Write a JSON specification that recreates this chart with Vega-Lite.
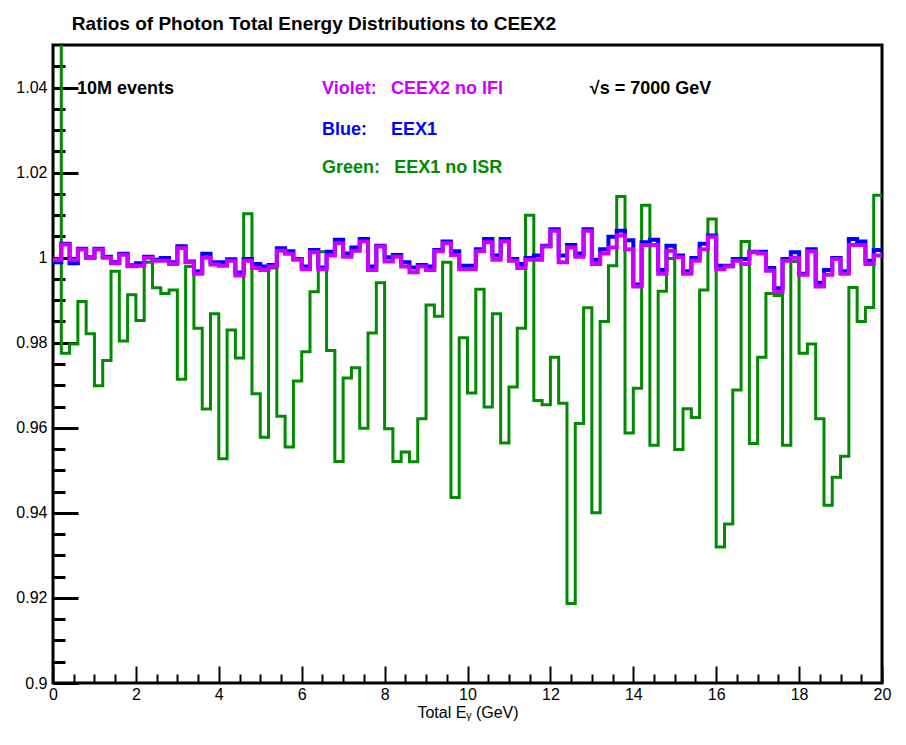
{
  "$schema": "https://vega.github.io/schema/vega-lite/v6.json",
  "width": 829,
  "height": 638,
  "autosize": {"type": "none"},
  "padding": {"left": 53, "top": 45, "right": 24, "bottom": 62},
  "background": "white",
  "title": {"text": "Ratios of Photon Total Energy Distributions to CEEX2", "anchor": "start", "dx": 56, "offset": -4, "baseline": "alphabetic", "font": "Liberation Sans", "fontWeight": "bold", "fontSize": 19, "color": "black"},
  "datasets": {
    "h": [
      {"e": 0.0, "green": 1.08, "blue": 0.9989, "violet": 0.9995},
      {"e": 0.2, "green": 0.9775, "blue": 1.0033, "violet": 1.0031},
      {"e": 0.4, "green": 0.9797, "blue": 0.9987, "violet": 0.9995},
      {"e": 0.6, "green": 0.9897, "blue": 1.0021, "violet": 1.0019},
      {"e": 0.8, "green": 0.9821, "blue": 1.0001, "violet": 0.9999},
      {"e": 1.0, "green": 0.9699, "blue": 1.0021, "violet": 1.0019},
      {"e": 1.2, "green": 0.9758, "blue": 1.0002, "violet": 1.0},
      {"e": 1.4, "green": 0.9968, "blue": 0.9989, "violet": 0.9987},
      {"e": 1.6, "green": 0.9804, "blue": 1.0009, "violet": 1.0007},
      {"e": 1.8, "green": 0.9913, "blue": 0.9982, "violet": 0.998},
      {"e": 2.0, "green": 0.9852, "blue": 0.9987, "violet": 0.9981},
      {"e": 2.2, "green": 0.9989, "blue": 1.0002, "violet": 1.0},
      {"e": 2.4, "green": 0.9929, "blue": 0.9995, "violet": 0.9993},
      {"e": 2.6, "green": 0.9916, "blue": 0.9999, "violet": 0.9993},
      {"e": 2.8, "green": 0.9924, "blue": 0.9989, "violet": 0.9985},
      {"e": 3.0, "green": 0.9714, "blue": 1.0027, "violet": 1.0023},
      {"e": 3.2, "green": 0.9979, "blue": 0.9991, "violet": 0.9989},
      {"e": 3.4, "green": 0.9834, "blue": 0.9968, "violet": 0.9962},
      {"e": 3.6, "green": 0.9644, "blue": 1.0009, "violet": 1.0},
      {"e": 3.8, "green": 0.9868, "blue": 0.9989, "violet": 0.9984},
      {"e": 4.0, "green": 0.9527, "blue": 0.9989, "violet": 0.9981},
      {"e": 4.2, "green": 0.983, "blue": 0.9996, "violet": 0.9993},
      {"e": 4.4, "green": 0.9764, "blue": 0.9965, "violet": 0.9958},
      {"e": 4.6, "green": 1.0103, "blue": 0.9997, "violet": 0.9993},
      {"e": 4.8, "green": 0.968, "blue": 0.9985, "violet": 0.9976},
      {"e": 5.0, "green": 0.9578, "blue": 0.9979, "violet": 0.9971},
      {"e": 5.2, "green": 0.9976, "blue": 0.9983, "violet": 0.9979},
      {"e": 5.4, "green": 0.9627, "blue": 1.0022, "violet": 1.0016},
      {"e": 5.6, "green": 0.9555, "blue": 1.0015, "violet": 1.0009},
      {"e": 5.8, "green": 0.971, "blue": 0.9997, "violet": 0.9995},
      {"e": 6.0, "green": 0.9779, "blue": 0.9979, "violet": 0.9973},
      {"e": 6.2, "green": 0.992, "blue": 1.0018, "violet": 1.0013},
      {"e": 6.4, "green": 1.0014, "blue": 0.9977, "violet": 0.9973},
      {"e": 6.6, "green": 0.9782, "blue": 1.0014, "violet": 1.0005},
      {"e": 6.8, "green": 0.9521, "blue": 1.0042, "violet": 1.0034},
      {"e": 7.0, "green": 0.9717, "blue": 1.001, "violet": 1.0002},
      {"e": 7.2, "green": 0.9741, "blue": 1.0024, "violet": 1.0016},
      {"e": 7.4, "green": 0.9599, "blue": 1.0044, "violet": 1.0038},
      {"e": 7.6, "green": 0.9823, "blue": 0.9979, "violet": 0.9971},
      {"e": 7.8, "green": 0.9941, "blue": 1.0028, "violet": 1.0026},
      {"e": 8.0, "green": 0.9598, "blue": 1.0001, "violet": 0.9991},
      {"e": 8.2, "green": 0.9521, "blue": 1.0006, "violet": 1.0002},
      {"e": 8.4, "green": 0.9543, "blue": 0.9989, "violet": 0.9979},
      {"e": 8.6, "green": 0.952, "blue": 0.9977, "violet": 0.9966},
      {"e": 8.8, "green": 0.9621, "blue": 0.9983, "violet": 0.9979},
      {"e": 9.0, "green": 0.9889, "blue": 0.9979, "violet": 0.9971},
      {"e": 9.2, "green": 0.9862, "blue": 1.0018, "violet": 1.0015},
      {"e": 9.4, "green": 0.9989, "blue": 1.0038, "violet": 1.0034},
      {"e": 9.6, "green": 0.9436, "blue": 1.0015, "violet": 1.0006},
      {"e": 9.8, "green": 0.9812, "blue": 0.9981, "violet": 0.9973},
      {"e": 10.0, "green": 0.9682, "blue": 0.9981, "violet": 0.9973},
      {"e": 10.2, "green": 0.9926, "blue": 1.002, "violet": 1.0015},
      {"e": 10.4, "green": 0.9649, "blue": 1.0044, "violet": 1.0036},
      {"e": 10.6, "green": 0.9868, "blue": 1.0005, "violet": 0.9995},
      {"e": 10.8, "green": 0.9564, "blue": 1.0044, "violet": 1.0038},
      {"e": 11.0, "green": 0.9696, "blue": 0.9997, "violet": 0.9993},
      {"e": 11.2, "green": 0.9834, "blue": 0.9985, "violet": 0.9976},
      {"e": 11.4, "green": 1.01, "blue": 0.9999, "violet": 0.9995},
      {"e": 11.6, "green": 0.9664, "blue": 1.0005, "violet": 0.9995},
      {"e": 11.8, "green": 0.9654, "blue": 1.0028, "violet": 1.0026},
      {"e": 12.0, "green": 0.9766, "blue": 1.0067, "violet": 1.0063},
      {"e": 12.2, "green": 0.9658, "blue": 1.0005, "violet": 0.9989},
      {"e": 12.4, "green": 0.9187, "blue": 1.003, "violet": 1.0024},
      {"e": 12.6, "green": 0.961, "blue": 1.001, "violet": 1.0002},
      {"e": 12.8, "green": 0.9882, "blue": 1.0067, "violet": 1.0063},
      {"e": 13.0, "green": 0.94, "blue": 0.9995, "violet": 0.9985},
      {"e": 13.2, "green": 0.985, "blue": 1.002, "violet": 1.001},
      {"e": 13.4, "green": 0.9981, "blue": 1.0049, "violet": 1.0024},
      {"e": 13.6, "green": 1.0144, "blue": 1.0063, "violet": 1.0052},
      {"e": 13.8, "green": 0.9588, "blue": 1.0041, "violet": 1.002},
      {"e": 14.0, "green": 0.9693, "blue": 0.9937, "violet": 0.9932},
      {"e": 14.2, "green": 1.0123, "blue": 1.0036, "violet": 1.003},
      {"e": 14.4, "green": 0.9559, "blue": 1.0042, "violet": 1.003},
      {"e": 14.6, "green": 0.9921, "blue": 0.9971, "violet": 0.9962},
      {"e": 14.8, "green": 0.9998, "blue": 1.0028, "violet": 1.0016},
      {"e": 15.0, "green": 0.9549, "blue": 1.0005, "violet": 1.0001},
      {"e": 15.2, "green": 0.9645, "blue": 0.9968, "violet": 0.9962},
      {"e": 15.4, "green": 0.9624, "blue": 0.9999, "violet": 0.9993},
      {"e": 15.6, "green": 0.9924, "blue": 1.0033, "violet": 1.002},
      {"e": 15.8, "green": 1.0091, "blue": 1.0052, "violet": 1.0049},
      {"e": 16.0, "green": 0.932, "blue": 0.9981, "violet": 0.9973},
      {"e": 16.2, "green": 0.9374, "blue": 0.9981, "violet": 0.9979},
      {"e": 16.4, "green": 0.9689, "blue": 0.9997, "violet": 0.9993},
      {"e": 16.6, "green": 1.0038, "blue": 0.9997, "violet": 0.9985},
      {"e": 16.8, "green": 0.9563, "blue": 1.0014, "violet": 1.0013},
      {"e": 17.0, "green": 0.9766, "blue": 1.0014, "violet": 1.001},
      {"e": 17.2, "green": 0.9916, "blue": 0.9976, "violet": 0.9969},
      {"e": 17.4, "green": 0.9911, "blue": 0.9928, "violet": 0.9919},
      {"e": 17.6, "green": 0.9559, "blue": 0.9997, "violet": 0.9993},
      {"e": 17.8, "green": 0.9991, "blue": 1.0013, "violet": 1.0},
      {"e": 18.0, "green": 0.9775, "blue": 0.9962, "violet": 0.996},
      {"e": 18.2, "green": 0.9797, "blue": 1.002, "violet": 1.0015},
      {"e": 18.4, "green": 0.9621, "blue": 0.9941, "violet": 0.9932},
      {"e": 18.6, "green": 0.9418, "blue": 0.9971, "violet": 0.996},
      {"e": 18.8, "green": 0.9484, "blue": 0.9999, "violet": 0.9997},
      {"e": 19.0, "green": 0.9533, "blue": 0.9968, "violet": 0.9962},
      {"e": 19.2, "green": 0.993, "blue": 1.0044, "violet": 1.003},
      {"e": 19.4, "green": 0.985, "blue": 1.0038, "violet": 1.003},
      {"e": 19.6, "green": 0.9883, "blue": 0.9993, "violet": 0.9985},
      {"e": 19.8, "green": 1.0147, "blue": 1.0018, "violet": 1.0005},
      {"e": 20.0, "green": 1.0147, "blue": 1.0018, "violet": 1.0005}
    ]
  },
  "layer": [
    {
      "data": {"name": "h"},
      "mark": {"type": "line", "interpolate": "step-after", "color": "#008b00", "strokeWidth": 3, "clip": true},
      "encoding": {
        "x": {"field": "e", "type": "quantitative", "scale": {"domain": [0, 20], "nice": false, "zero": false},
          "axis": {"orient": "bottom", "values": [0, 2, 4, 6, 8, 10, 12, 14, 16, 18, 20], "tickSize": -17, "tickWidth": 2, "labelPadding": 20, "labelFontSize": 16, "labelFlush": false, "labelOverlap": false, "format": "d", "title": "Total Eᵧ (GeV)", "titleFontSize": 16, "titlePadding": 2}},
        "y": {"field": "green", "type": "quantitative", "scale": {"domain": [0.9, 1.05], "nice": false, "zero": false},
          "axis": {"orient": "left", "values": [0.9, 0.92, 0.94, 0.96, 0.98, 1.0, 1.02, 1.04], "tickSize": -25, "tickWidth": 3, "labelPadding": 31, "labelFontSize": 16, "labelFlush": false, "labelOverlap": false, "labelExpr": "format(datum.value, '.2~f')", "title": null}}
      }
    },
    {
      "data": {"name": "h"},
      "mark": {"type": "line", "interpolate": "step-after", "color": "#0000ff", "strokeWidth": 4, "clip": true},
      "encoding": {
        "x": {"field": "e", "type": "quantitative",
          "axis": {"orient": "bottom", "values": [0.5, 1, 1.5, 2.5, 3, 3.5, 4.5, 5, 5.5, 6.5, 7, 7.5, 8.5, 9, 9.5, 10.5, 11, 11.5, 12.5, 13, 13.5, 14.5, 15, 15.5, 16.5, 17, 17.5, 18.5, 19, 19.5], "tickSize": -9, "tickWidth": 2, "labels": false, "title": null}},
        "y": {"field": "blue", "type": "quantitative",
          "axis": {"orient": "left", "values": [0.905, 0.91, 0.915, 0.925, 0.93, 0.935, 0.945, 0.95, 0.955, 0.965, 0.97, 0.975, 0.985, 0.99, 0.995, 1.005, 1.01, 1.015, 1.025, 1.03, 1.035, 1.045], "tickSize": -12, "tickWidth": 3, "labels": false, "title": null}}
      }
    },
    {
      "data": {"name": "h"},
      "mark": {"type": "line", "interpolate": "step-after", "color": "#cc00ff", "strokeWidth": 4, "clip": true},
      "encoding": {
        "x": {"field": "e", "type": "quantitative", "axis": null},
        "y": {"field": "violet", "type": "quantitative", "axis": null}
      }
    },
    {
      "data": {"values": [{}]},
      "mark": {"type": "text", "text": "10M events", "align": "left", "baseline": "alphabetic", "font": "Liberation Sans", "fontWeight": "bold", "fontSize": 18, "color": "black"},
      "encoding": {"x": {"datum": 0.58, "type": "quantitative", "axis": null}, "y": {"datum": 1.0385, "type": "quantitative", "axis": null}}
    },
    {
      "data": {"values": [{}]},
      "mark": {"type": "text", "text": "√s = 7000 GeV", "align": "left", "baseline": "alphabetic", "font": "Liberation Sans", "fontWeight": "bold", "fontSize": 18, "color": "black"},
      "encoding": {"x": {"datum": 12.95, "type": "quantitative", "axis": null}, "y": {"datum": 1.0385, "type": "quantitative", "axis": null}}
    },
    {
      "data": {"values": [{}]},
      "mark": {"type": "text", "text": "Violet:", "align": "left", "baseline": "alphabetic", "font": "Liberation Sans", "fontWeight": "bold", "fontSize": 18, "color": "#cc00ff"},
      "encoding": {"x": {"datum": 6.49, "type": "quantitative", "axis": null}, "y": {"datum": 1.0385, "type": "quantitative", "axis": null}}
    },
    {
      "data": {"values": [{}]},
      "mark": {"type": "text", "text": "CEEX2 no IFI", "align": "left", "baseline": "alphabetic", "font": "Liberation Sans", "fontWeight": "bold", "fontSize": 18, "color": "#cc00ff"},
      "encoding": {"x": {"datum": 8.155, "type": "quantitative", "axis": null}, "y": {"datum": 1.0385, "type": "quantitative", "axis": null}}
    },
    {
      "data": {"values": [{}]},
      "mark": {"type": "text", "text": "Blue:", "align": "left", "baseline": "alphabetic", "font": "Liberation Sans", "fontWeight": "bold", "fontSize": 18, "color": "#0000ff"},
      "encoding": {"x": {"datum": 6.49, "type": "quantitative", "axis": null}, "y": {"datum": 1.0289, "type": "quantitative", "axis": null}}
    },
    {
      "data": {"values": [{}]},
      "mark": {"type": "text", "text": "EEX1", "align": "left", "baseline": "alphabetic", "font": "Liberation Sans", "fontWeight": "bold", "fontSize": 18, "color": "#0000ff"},
      "encoding": {"x": {"datum": 8.155, "type": "quantitative", "axis": null}, "y": {"datum": 1.0289, "type": "quantitative", "axis": null}}
    },
    {
      "data": {"values": [{}]},
      "mark": {"type": "text", "text": "Green:", "align": "left", "baseline": "alphabetic", "font": "Liberation Sans", "fontWeight": "bold", "fontSize": 18, "color": "#008b00"},
      "encoding": {"x": {"datum": 6.49, "type": "quantitative", "axis": null}, "y": {"datum": 1.02, "type": "quantitative", "axis": null}}
    },
    {
      "data": {"values": [{}]},
      "mark": {"type": "text", "text": "EEX1 no ISR", "align": "left", "baseline": "alphabetic", "font": "Liberation Sans", "fontWeight": "bold", "fontSize": 18, "color": "#008b00"},
      "encoding": {"x": {"datum": 8.23, "type": "quantitative", "axis": null}, "y": {"datum": 1.02, "type": "quantitative", "axis": null}}
    }
  ],
  "resolve": {"axis": {"x": "independent", "y": "independent"}},
  "config": {
    "font": "Liberation Sans",
    "view": {"stroke": "black", "strokeWidth": 3},
    "axis": {"domain": false, "grid": false, "tickColor": "black", "labelColor": "black", "titleColor": "black", "labelFont": "Liberation Sans", "titleFont": "Liberation Sans", "titleFontWeight": "normal"}
  }
}
